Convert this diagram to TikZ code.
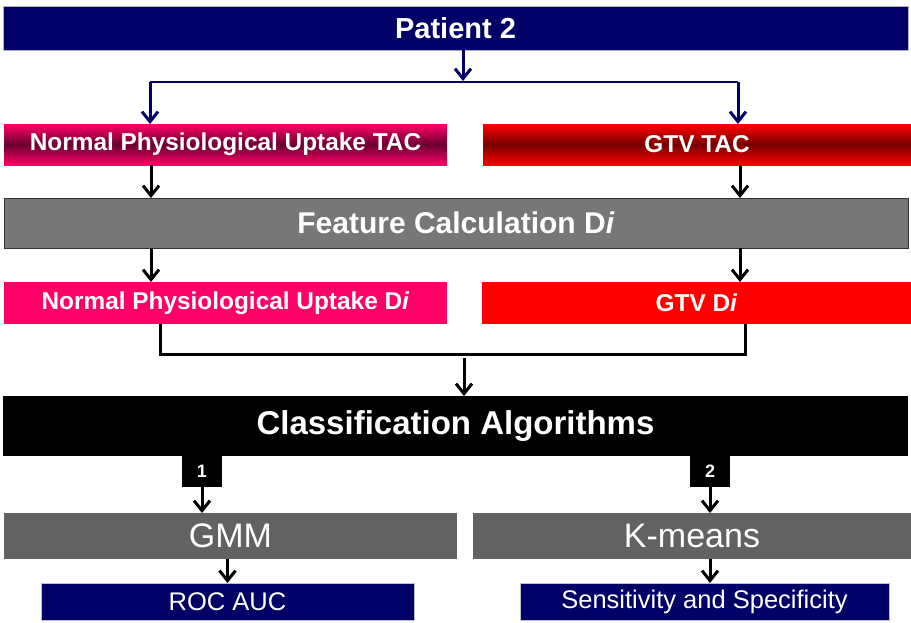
\documentclass[tikz,border=0pt]{standalone}
\usepackage{fontspec}
\setmainfont{Liberation Sans}
\usetikzlibrary{arrows.meta}
\definecolor{navy}{HTML}{000066}
\definecolor{pinkc}{HTML}{FF0066}
\definecolor{maroonc}{HTML}{6A0030}
\definecolor{redc}{HTML}{FF0000}
\definecolor{dredc}{HTML}{780000}
\definecolor{featgray}{HTML}{777777}
\definecolor{algogray}{HTML}{626262}
\begin{document}
\begin{tikzpicture}[x=1pt,y=-1pt,
  box/.style={rectangle, anchor=north west, inner sep=0pt, outer sep=0pt, text=white, align=center},
  arr/.style={line width=3pt, -{Straight Barb[length=10pt,width=16pt,line width=3pt]}},
  navyarr/.style={arr, draw=navy},
  plain/.style={line width=3pt},
  bigb/.style={font=\fontsize{29}{29}\selectfont\bfseries},
  midb/.style={font=\fontsize{24.4}{24}\selectfont\bfseries},
  smallr/.style={font=\fontsize{25.5}{25}\selectfont},
  algo/.style={font=\fontsize{34}{34}\selectfont},
  numb/.style={box, font=\fontsize{18}{18}\selectfont\bfseries, fill=black, minimum width=40pt, minimum height=31pt},
]
\useasboundingbox (0,0) rectangle (911,622);

\node[box, bigb, fill=navy, draw=gray!60, line width=0.8pt, minimum width=905pt, minimum height=44pt] (p) at (3,6) {Patient 2};

\node[box, midb, top color=pinkc, bottom color=pinkc, middle color=maroonc, minimum width=443pt, minimum height=41pt] (ntac) at (4,124) {Normal Physiological Uptake TAC};
\node[box, midb, top color=redc, bottom color=redc, middle color=dredc, minimum width=428pt, minimum height=41pt] (gtac) at (483,124) {GTV TAC};

\node[box, font=\fontsize{30}{30}\selectfont\bfseries, fill=featgray, draw=gray!40!black, line width=0.8pt, minimum width=904pt, minimum height=50pt] (feat) at (4,198) {Feature Calculation D\textit{i}};

\node[box, midb, fill=pinkc, minimum width=443pt, minimum height=42pt] (ndi) at (4,282) {Normal Physiological Uptake D\textit{i}};
\node[box, midb, fill=redc, minimum width=429pt, minimum height=42pt] (gdi) at (482,282) {GTV D\textit{i}};

\node[box, font=\fontsize{33}{33}\selectfont\bfseries, fill=black, minimum width=905pt, minimum height=60pt] (cls) at (3,396) {Classification Algorithms};

\node[numb] (n1) at (182,456) {1};
\node[numb] (n2) at (690,456) {2};

\node[box, algo, fill=algogray, minimum width=453pt, minimum height=46pt] (gmm) at (4,513) {GMM};
\node[box, algo, fill=algogray, minimum width=438pt, minimum height=46pt] (km) at (473,513) {K-means};

\node[box, smallr, fill=navy, draw=gray!50, line width=0.5pt, minimum width=373pt, minimum height=37pt, text depth=0pt] (roc) at (41,583) {ROC AUC};
\node[box, smallr, fill=navy, draw=gray!50, line width=0.5pt, minimum width=369pt, minimum height=37pt] (sens) at (520,583) {Sensitivity and Specificity};

% connectors
\coordinate (jm) at (463,81);
\coordinate (jl) at (150,82);
\coordinate (jr) at (738,82);
\draw[navyarr] (p.south -| jm) -- (jm);
\draw[plain, draw=navy, line width=2.5pt] (jl) -- (jr);
\draw[navyarr] (jl) -- (jl |- ntac.north);
\draw[navyarr] (jr) -- (jr |- gtac.north);

\coordinate (cl) at (151,0);
\coordinate (cr) at (740,0);
\draw[arr] (cl |- ntac.south) -- (cl |- feat.north);
\draw[arr] (cr |- gtac.south) -- (cr |- feat.north);
\draw[arr] (cl |- feat.south) -- (cl |- ndi.north);
\draw[arr] (cr |- feat.south) -- (cr |- gdi.north);

\coordinate (ml) at (160,354);
\coordinate (mr) at (745,354);
\coordinate (mm) at (464,358);
\draw[plain] (ml |- ndi.south) -- (ml) -- (mr) -- (mr |- gdi.south);
\draw[arr] (mm) -- (mm |- cls.north);

\draw[arr] (n1.south) -- (n1.south |- gmm.north);
\draw[arr] (n2.south) -- (n2.south |- km.north);
\draw[arr] (roc.north |- gmm.south) -- (roc.north);
\coordinate (ks) at (710,0);
\draw[arr] (ks |- km.south) -- (ks |- sens.north);
\end{tikzpicture}
\end{document}
